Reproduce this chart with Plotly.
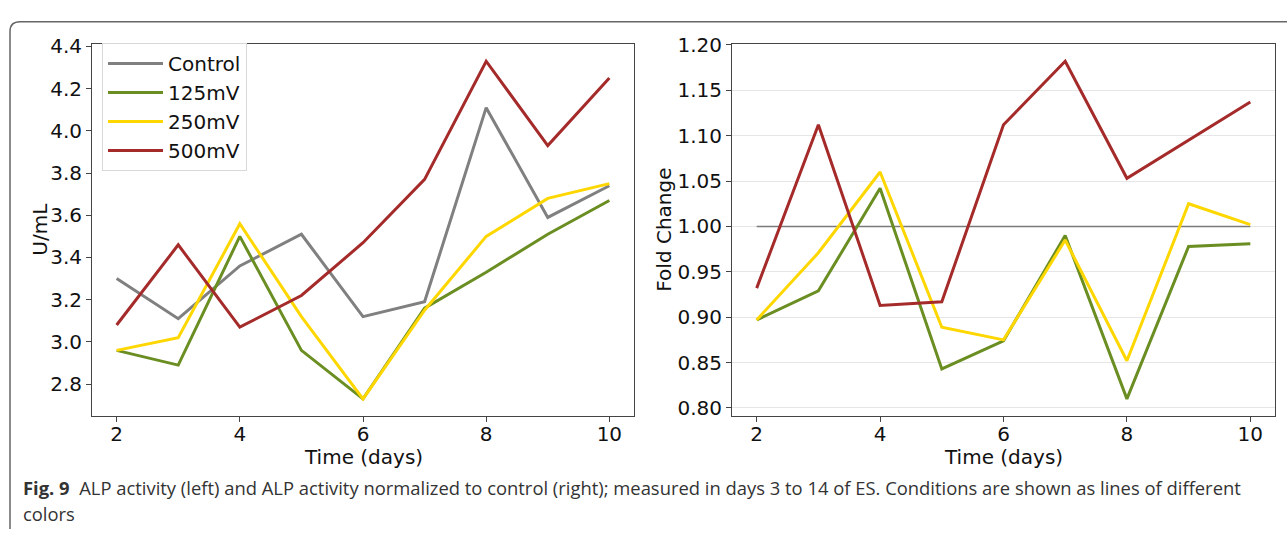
import plotly.graph_objects as go

# ---- data ----
days = [2, 3, 4, 5, 6, 7, 8, 9, 10]

control_uml = [3.30, 3.11, 3.36, 3.51, 3.12, 3.19, 4.11, 3.59, 3.74]
mv125_uml = [2.96, 2.89, 3.50, 2.96, 2.73, 3.16, 3.33, 3.51, 3.67]
mv250_uml = [2.96, 3.02, 3.56, 3.12, 2.73, 3.15, 3.50, 3.68, 3.75]
mv500_uml = [3.08, 3.46, 3.07, 3.22, 3.47, 3.77, 4.33, 3.93, 4.25]

control_fc = [1.0, 1.0, 1.0, 1.0, 1.0, 1.0, 1.0, 1.0, 1.0]
mv125_fc = [0.897, 0.929, 1.042, 0.843, 0.874, 0.990, 0.810, 0.978, 0.981]
mv250_fc = [0.897, 0.971, 1.060, 0.889, 0.875, 0.985, 0.852, 1.025, 1.002]
mv500_fc = [0.932, 1.112, 0.913, 0.917, 1.112, 1.182, 1.053, 1.095, 1.137]

series_names = ["Control", "125mV", "250mV", "500mV"]
colors = ["#808080", "#6b8e23", "#ffd700", "#a52a2a"]

left_yticks = [2.8, 3.0, 3.2, 3.4, 3.6, 3.8, 4.0, 4.2, 4.4]
right_yticks = [0.80, 0.85, 0.90, 0.95, 1.00, 1.05, 1.10, 1.15, 1.20]
xticks = [2, 4, 6, 8, 10]

W, H = 1287, 533


def px(x):
    return x / W


def py(y):
    return 1 - y / H


fig = go.Figure()

left_data = [control_uml, mv125_uml, mv250_uml, mv500_uml]
for name, vals, c in zip(series_names, left_data, colors):
    fig.add_trace(go.Scatter(x=days, y=vals, mode="lines", name=name,
                             line=dict(color=c, width=3),
                             xaxis="x", yaxis="y", showlegend=True))

fig.add_trace(go.Scatter(x=days, y=control_fc, mode="lines", name="Control",
                         line=dict(color="#7a7a7a", width=1.5),
                         xaxis="x2", yaxis="y2", showlegend=False))
right_data = [mv125_fc, mv250_fc, mv500_fc]
for name, vals, c in zip(series_names[1:], right_data, colors[1:]):
    fig.add_trace(go.Scatter(x=days, y=vals, mode="lines", name=name,
                             line=dict(color=c, width=3),
                             xaxis="x2", yaxis="y2", showlegend=False))

tickfont = dict(family="DejaVu Sans", size=20, color="#111")
axis_common = dict(showline=True, mirror=True, linecolor="#444", linewidth=1,
                   ticks="outside", ticklen=5, tickcolor="#444",
                   tickfont=tickfont, zeroline=False)

ydom = [py(416.5), py(34.3)]
fig.update_layout(
    width=W, height=H,
    margin=dict(l=0, r=0, t=0, b=0),
    paper_bgcolor="white", plot_bgcolor="white",
    xaxis=dict(domain=[px(92), px(634)], range=[1.6, 10.4],
               tickvals=xticks, showgrid=False, anchor="y",
               ticklabelstandoff=-5, **axis_common),
    yaxis=dict(domain=ydom, range=[2.65, 4.41], tickvals=left_yticks,
               ticktext=[f"{v:.1f}" for v in left_yticks],
               showgrid=False, anchor="x", **axis_common),
    xaxis2=dict(domain=[px(732), px(1275)], range=[1.6, 10.4],
                tickvals=xticks, showgrid=False, anchor="y2",
                ticklabelstandoff=-5, **axis_common),
    yaxis2=dict(domain=ydom, range=[0.7914, 1.2006], tickvals=right_yticks,
                ticktext=[f"{v:.2f}" for v in right_yticks],
                showgrid=True, gridcolor="#e6e6e6", gridwidth=1,
                anchor="x2", **axis_common),
    legend=dict(x=px(102), y=py(33), xanchor="left", yanchor="top",
                bgcolor="rgba(255,255,255,0.8)", bordercolor="#d8d8d8",
                borderwidth=1, font=dict(family="DejaVu Sans", size=20, color="#111"),
                itemwidth=55, tracegroupgap=0),
)

title_font = dict(family="DejaVu Sans", size=20, color="#111")
annotations = [
    dict(text="Time (days)", x=px(363), y=py(459), xref="paper", yref="paper",
         showarrow=False, font=title_font, xanchor="center", yanchor="middle"),
    dict(text="Time (days)", x=px(1003), y=py(459), xref="paper", yref="paper",
         showarrow=False, font=title_font, xanchor="center", yanchor="middle"),
    dict(text="U/mL", x=px(40), y=py(225), xref="paper", yref="paper",
         showarrow=False, font=title_font, textangle=-90,
         xanchor="center", yanchor="middle"),
    dict(text="Fold Change", x=px(664), y=py(225), xref="paper", yref="paper",
         showarrow=False, font=title_font, textangle=-90,
         xanchor="center", yanchor="middle"),
    dict(text="<b>Fig. 9</b>  ALP activity (left) and ALP activity normalized to control (right); "
              "measured in days 3 to 14 of ES. Conditions are shown as lines of different",
         x=px(21), y=py(490), xref="paper", yref="paper", showarrow=False,
         font=dict(family="Open Sans", size=18.4, color="#333"),
         xanchor="left", yanchor="middle"),
    dict(text="colors", x=px(21), y=py(517), xref="paper", yref="paper", showarrow=False,
         font=dict(family="Open Sans", size=18.4, color="#333"),
         xanchor="left", yanchor="middle"),
]
fig.update_layout(annotations=annotations)

# rounded border around the figure panel (top-left corner visible)
x0, yt, r = 10, 11, 10
path = (f"M {px(W)},{py(yt)} L {px(x0 + r)},{py(yt)} "
        f"Q {px(x0)},{py(yt)} {px(x0)},{py(yt + r)} L {px(x0)},{py(H)}")
fig.add_shape(type="path", path=path, xref="paper", yref="paper",
              line=dict(color="#666", width=1.5))

fig.write_html("out.html")
